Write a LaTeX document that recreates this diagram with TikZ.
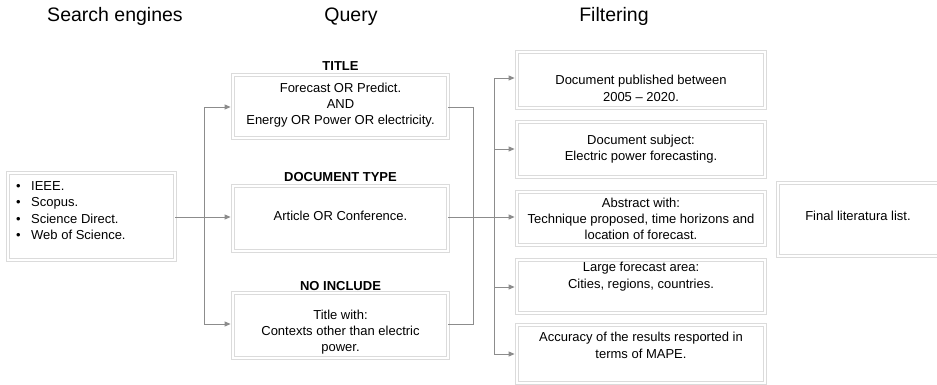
\documentclass[tikz,border=0pt]{standalone}
\usepackage{fontspec}
\setmainfont{Liberation Sans}
\usetikzlibrary{arrows.meta}

\begin{document}
\begin{tikzpicture}[x=1pt,y=-1pt]
        \tikzstyle{box}=[draw=black!14,line width=0.8pt,double=white,double distance=1.6pt,fill=white,inner sep=0pt]
        \tikzstyle{txt}=[align=center,font=\fontsize{13}{16.3}\selectfont,inner sep=0pt]
        \tikzstyle{head}=[font=\fontsize{19.5}{22}\selectfont,anchor=base,inner sep=0pt]
        \tikzstyle{tag}=[font=\fontsize{13}{16}\selectfont\bfseries,inner sep=0pt]
        \tikzstyle{link}=[draw=black!45,line width=0.8pt]
        \tikzstyle{flow}=[link,-{Triangle[length=6pt,width=5pt]},shorten >=2pt]

      \useasboundingbox (0,0) rectangle (937,385);

      \begin{scope}
         \node[head] (h1) at (115,22) {Search engines};
         \node[head] (h2) at (351,22) {Query};
         \node[head] (h3) at (614,22) {Filtering};

         \node[box,minimum width=167pt,minimum height=87pt] (se) at (91.5,216.5) {};
         \node[txt,align=left,anchor=west] (sel) at (16,210.5)
            {\makebox[15pt][l]{\textbullet}IEEE.\\
             \makebox[15pt][l]{\textbullet}Scopus.\\
             \makebox[15pt][l]{\textbullet}Science Direct.\\
             \makebox[15pt][l]{\textbullet}Web of Science.};

         \node[box,minimum width=215pt,minimum height=63pt] (q1) at (340.5,106.5) {};
         \node[box,minimum width=215pt,minimum height=65pt] (q2) at (340.5,218.5) {};
         \node[box,minimum width=215pt,minimum height=65pt] (q3) at (340.5,325.5) {};

         \node[tag] (q1t) at (340.5,66)  {TITLE};
         \node[tag] (q2t) at (340.5,177) {DOCUMENT TYPE};
         \node[tag] (q3t) at (340.5,286) {NO INCLUDE};

         \node[txt] (q1l) at (340.5,105) {Forecast OR Predict.\\AND\\Energy OR Power OR electricity.};
         \node[txt] (q2l) at (340.5,216) {Article OR Conference.};
         \node[txt] (q3l) at (340.5,332) {Title with:\\Contexts other than electric\\power.};

         \node[box,minimum width=248pt,minimum height=56pt] (f1) at (641,80)    {};
         \node[box,minimum width=248pt,minimum height=55pt] (f2) at (641,149.5) {};
         \node[box,minimum width=248pt,minimum height=53pt] (f3) at (641,218.5) {};
         \node[box,minimum width=248pt,minimum height=53pt] (f4) at (641,286.5) {};
         \node[box,minimum width=248pt,minimum height=58pt] (f5) at (641,354)   {};

         \node[txt] (f1l) at (641,88.5)  {Document published between\\2005 -- 2020.};
         \node[txt] (f2l) at (641,149)   {Document subject:\\Electric power forecasting.};
         \node[txt] (f3l) at (641,219)   {Abstract with:\\Technique proposed, time horizons and\\location of forecast.};
         \node[txt] (f4l) at (641,276.5) {Large forecast area:\\Cities, regions, countries.};
         \node[txt] (f5l) at (641,345.5) {Accuracy of the results resported in\\terms of MAPE.};

         \node[box,minimum width=167pt,minimum height=73pt] (fin) at (861.5,219.5) {};
         \node[txt] (finl) at (858,216) {Final literatura list.};

         \coordinate (qs) at (204,217);
         \coordinate (fm) at (473,217);
         \coordinate (fs) at (494,217);

         \draw[link] (se.east |- qs) -- (qs);
         \draw[flow] (qs) |- (q1.west |- 0,107);
         \draw[flow] (qs) -- (q2.west |- qs);
         \draw[flow] (qs) |- (q3.west |- 0,324);

         \draw[link] (q1.east |- 0,107) -| (fm);
         \draw[link] (q3.east |- 0,324) -| (fm);
         \draw[flow] (q2.east |- qs) -- (f3.west |- qs);

         \draw[flow] (fs) |- (f1.west |- 0,78);
         \draw[flow] (fs) |- (f2.west |- 0,149);
         \draw[flow] (fs) |- (f4.west |- 0,287);
         \draw[flow] (fs) |- (f5.west |- 0,354);

      \end{scope}
    \end{tikzpicture}
\end{document}
